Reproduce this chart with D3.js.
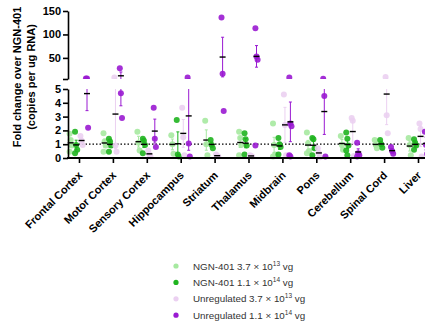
<!DOCTYPE html>
<html>
<head>
<meta charset="utf-8">
<script src="https://cdn.jsdelivr.net/npm/d3@7"></script>
<style>
  body { margin: 0; background: #fff; }
  svg { font-family: "Liberation Sans", Arial, sans-serif; }
</style>
</head>
<body>
<div id="plot"></div>
<script>
// tissues on the x axis
const categories = ["Frontal Cortex", "Motor Cortex", "Sensory Cortex", "Hippocampus", "Striatum",
  "Thalamus", "Midbrain", "Pons", "Cerebellum", "Spinal Cord", "Liver"];

// fold change values per animal, one list per tissue
const ngnLow = [
  [1.75, 1.3, 0.9, 0.45], [1.8, 1.2, 0.9, 0.45], [1.9, 1.1, 0.55], [1.65, 1.0, 0.3],
  [2.7, 1.0, 0.2], [1.9, 1.45, 0.95, 0.2], [2.5, 0.95, 0.25, 0.1], [1.85, 1.05, 0.5, 0.35],
  [1.6, 0.95, 0.6], [1.3, 0.95, 0.7], [1.45, 0.95, 0.2]
];
const ngnHigh = [
  [1.9, 0.95, 0.6, 0.35], [1.4, 1.2, 0.9, 0.45], [1.4, 1.25, 0.95, 0.35], [2.75, 0.25, 0.1],
  [1.3, 0.95, 0.7], [1.8, 1.35, 0.9, 0.25], [1.45, 1.0, 0.8, 0.25], [1.45, 1.35, 0.7, 0.2],
  [1.85, 1.4, 0.9, 0.55, 0.2], [1.3, 1.0, 0.75], [1.35, 1.1, 0.9, 0.6]
];
const unregLow = [
  [1.6, 1.25, 0.95], [8.2, 0.9, 0.45], [0.55, 0.25, 0.1], [3.65, 1.5, 0.2],
  [0.25, 0.15, 0.1], [0.2, 0.15, 0.1], [4.6, 2.4, 0.2], [0.7, 0.35, 0.05],
  [2.9, 2.7, 0.15], [9, 3.1, 1.8], [2.5, 2.1, 0.1]
];
const unregHigh = [
  [6, 5.8, 2.2], [28, 4.7, 2.9], [3.65, 1.4, 0.8], [8, 1.05, 0.1],
  [136, 16, 3.4], [113, 53, 46, 0.9], [8, 2.5, 2.3, 0.2, 0.1], [5.5, 4.5, 0.1],
  [1.1, 0.35, 0.2, 0.1], [0.8, 0.5, 0.3], [1.9, 0.95, 0.3]
];

const groupNames = ["NGN-401 3.7 × 10|13| vg", "NGN-401 1.1 × 10|14| vg",
  "Unregulated 3.7 × 10|13| vg", "Unregulated 1.1 × 10|14| vg"];
const groupColors = ["#a6e9a0", "#1fb41f", "#ebd0f1", "#9a1ad2"];
const groupData = [ngnLow, ngnHigh, unregLow, unregHigh];

const lowerTicks = [0, 1, 2, 3, 4, 5];
const upperTicks = [5, 50, 100, 150];

const width = 425, height = 329;
const svg = d3.select("#plot").append("svg")
  .attr("width", width)
  .attr("height", height);

const x = d3.scalePoint().domain(categories).range([79, 418]);
const xg = d3.scalePoint().domain(d3.range(4)).range([-8.3, 8]);

// broken y axis: two segments
const yLow = d3.scaleLinear().domain([0, 5]).range([158, 89]);
const yUp = d3.scaleLinear().domain([5, 150]).range([79, 11]);

const defs = svg.append("defs");
defs.append("clipPath").attr("id", "clipUp")
  .append("rect").attr("x", 60).attr("y", 0).attr("width", 380).attr("height", 79);
defs.append("clipPath").attr("id", "clipLow")
  .append("rect").attr("x", 60).attr("y", 89).attr("width", 380).attr("height", 80);

// reference line at 1
svg.append("line")
  .attr("x1", 68).attr("x2", width)
  .attr("y1", yLow(1)).attr("y2", yLow(1))
  .attr("stroke", "#000").attr("stroke-width", 1.2)
  .attr("stroke-dasharray", "1.5,2");

const stats = vals => {
  const m = d3.mean(vals);
  const sem = d3.deviation(vals) / Math.sqrt(vals.length);
  return [m, sem];
};

function drawSegment(y, clip) {
  const [lo, hi] = y.domain();
  const inSeg = v => (lo === 0 ? v <= hi : v > lo);
  const g = svg.append("g").attr("clip-path", `url(#${clip})`);
  groupData.forEach((series, gi) => {
    series.forEach((vals, ci) => {
      const cx = x(categories[ci]) + xg(gi);
      const [m, sem] = stats(vals);
      g.selectAll(null)
        .data(vals.map((v, i) => ({ v, i })).filter(d => inSeg(d.v)))
        .enter().append("circle")
        .attr("cx", d => cx + ((d.i % 3) - 1) * 1.1)
        .attr("cy", d => y(d.v))
        .attr("r", 3)
        .attr("fill", groupColors[gi])
        .attr("fill-opacity", 0.9);
      // error bar (mean ± SEM)
      g.append("line")
        .attr("x1", cx).attr("x2", cx)
        .attr("y1", y(m - sem)).attr("y2", y(m + sem))
        .attr("stroke", groupColors[gi]).attr("stroke-width", 1);
      [m - sem, m + sem].filter(inSeg).forEach(v => {
        g.append("line")
          .attr("x1", cx - 1.5).attr("x2", cx + 1.5)
          .attr("y1", y(v)).attr("y2", y(v))
          .attr("stroke", groupColors[gi]).attr("stroke-width", 1);
      });
      if (inSeg(m)) {
        g.append("line")
          .attr("x1", cx - 3).attr("x2", cx + 3)
          .attr("y1", y(m)).attr("y2", y(m))
          .attr("stroke", "#000").attr("stroke-width", 1.4);
      }
    });
  });
}
drawSegment(yUp, "clipUp");
drawSegment(yLow, "clipLow");

// y axes
const axLow = svg.append("g")
  .attr("transform", "translate(68,0)")
  .call(d3.axisLeft(yLow).tickValues(lowerTicks).tickSize(5).tickSizeOuter(0)
    .tickFormat(d3.format("d")));
const axUp = svg.append("g")
  .attr("transform", "translate(68,0)")
  .call(d3.axisLeft(yUp).tickValues(upperTicks).tickSize(5).tickSizeOuter(0)
    .tickFormat(d => d === 5 ? "" : d));

[axLow, axUp].forEach(a => {
  a.selectAll("path, line").attr("stroke", "#000").attr("stroke-width", 1.6);
  a.selectAll("text")
    .attr("font-size", "11px").attr("font-weight", "bold").attr("fill", "#000")
    .attr("x", -7);
});

// x axis
svg.append("line")
  .attr("x1", 67).attr("x2", width)
  .attr("y1", 158).attr("y2", 158)
  .attr("stroke", "#000").attr("stroke-width", 1.8);
const axX = svg.append("g")
  .attr("transform", "translate(0,158)")
  .call(d3.axisBottom(x).tickSize(5).tickSizeOuter(0));
axX.select(".domain").remove();
axX.selectAll("line").attr("stroke", "#000").attr("stroke-width", 1.6);
axX.selectAll("text")
  .attr("font-size", "11px").attr("font-weight", "bold").attr("fill", "#000")
  .attr("text-anchor", "end")
  .attr("y", 0).attr("dy", 0)
  .attr("transform", "translate(3.5,18) rotate(-45)");

// y axis title
const yTitle = ["Fold change over NGN-401", "(copies per ug RNA)"];
yTitle.forEach((t, i) => {
  svg.append("text")
    .attr("transform", `translate(${21 + i * 14},77) rotate(-90)`)
    .attr("text-anchor", "middle")
    .attr("font-size", "11px")
    .attr("font-weight", "bold")
    .text(t);
});

// legend
const legend = svg.append("g");
groupNames.forEach((name, i) => {
  const ly = 266 + i * 16.4;
  legend.append("circle")
    .attr("cx", 176).attr("cy", ly).attr("r", 2.6)
    .attr("fill", groupColors[i]);
  const parts = name.split("|");
  const txt = legend.append("text")
    .attr("x", 193).attr("y", ly + 3.5)
    .attr("font-size", "9.8px").attr("fill", "#333");
  txt.append("tspan").text(parts[0]);
  txt.append("tspan").attr("dy", -4).attr("font-size", "6.5px").text(parts[1]);
  txt.append("tspan").attr("dy", 4).text(parts[2]);
});
</script>
</body>
</html>
